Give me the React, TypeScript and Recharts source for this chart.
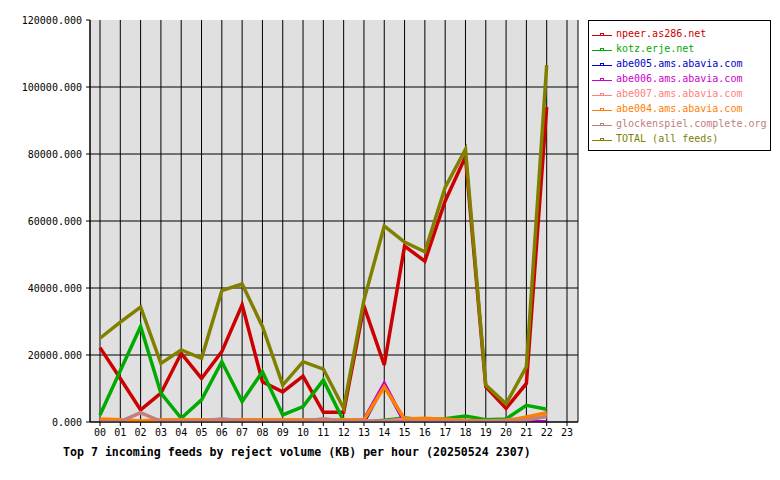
import React from 'react';
import {
  LineChart, Line, XAxis, YAxis, CartesianGrid,
} from 'recharts';

// hours on the x axis
const hours = ['00', '01', '02', '03', '04', '05', '06', '07', '08', '09', '10', '11',
  '12', '13', '14', '15', '16', '17', '18', '19', '20', '21', '22', '23'];

// reject volume (KB) per hour; hour 23 has no data yet
const npeer = [22200, 13000, 3600, 8600, 20500, 13000, 21000, 35000, 12000, 9000, 13700, 2900,
  2900, 34600, 17000, 52500, 48000, 66000, 79200, 10500, 4100, 11500, 94000, null];
const kotz = [2100, 15300, 28500, 8600, 1100, 6600, 18000, 6100, 15000, 2100, 4600, 12500,
  300, 0, 500, 1200, 700, 1000, 1800, 700, 900, 5000, 3800, null];
const abe005 = [0, 0, 0, 0, 0, 0, 0, 0, 0, 0, 0, 0,
  0, 0, 11200, 0, 0, 0, 0, 0, 0, 0, 0, null];
const abe006 = [0, 0, 0, 0, 0, 0, 0, 0, 0, 0, 0, 0,
  300, 700, 11500, 0, 0, 0, 0, 0, 0, 0, 0, null];
const abe007 = [200, 200, 200, 200, 200, 200, 200, 200, 200, 200, 200, 200,
  200, 200, 300, 800, 900, 700, 400, 300, 500, 1300, 2200, null];
const abe004 = [900, 700, 300, 700, 700, 700, 700, 700, 700, 700, 700, 700,
  700, 600, 10500, 900, 1100, 800, 500, 300, 300, 1500, 2800, null];
const glock = [100, 100, 2800, 200, 200, 200, 1000, 200, 200, 200, 200, 1000,
  200, 200, 200, 200, 200, 200, 200, 200, 200, 600, 1600, null];
const total = [25000, 29800, 34300, 17500, 21500, 19000, 39200, 41200, 28500, 11000, 18000, 15800,
  4100, 36400, 58500, 53700, 50800, 70000, 81400, 11000, 5400, 16500, 106500, null];

const yTicks = [0, 20000, 40000, 60000, 80000, 100000, 120000];

const title = 'Top 7 incoming feeds by reject volume (KB) per hour (20250524 2307)';

const SERIES = [
  { key: 'npeer', name: 'npeer.as286.net', color: '#cc0000', values: npeer },
  { key: 'kotz', name: 'kotz.erje.net', color: '#00aa00', values: kotz },
  { key: 'abe005', name: 'abe005.ams.abavia.com', color: '#0000cc', values: abe005 },
  { key: 'abe006', name: 'abe006.ams.abavia.com', color: '#cc00cc', values: abe006 },
  { key: 'abe007', name: 'abe007.ams.abavia.com', color: '#ff8080', values: abe007 },
  { key: 'abe004', name: 'abe004.ams.abavia.com', color: '#ff8000', values: abe004 },
  { key: 'glock', name: 'glockenspiel.complete.org', color: '#c08080', values: glock },
  { key: 'total', name: 'TOTAL (all feeds)', color: '#808000', values: total },
];

const FONT = '"DejaVu Sans Mono", "Liberation Mono", monospace';

const chartData = hours.map((h, i) => {
  const row: any = { hour: h };
  SERIES.forEach(s => { row[s.key] = s.values[i]; });
  return row;
});

function FeedLegend() {
  return (
    <div style={{
      position: 'absolute', left: 588, top: 20,
      width: 183, height: 131, background: '#fff', border: '1px solid #000',
      boxSizing: 'border-box', paddingTop: 5, fontFamily: FONT, fontSize: 10,
    }}>
      {SERIES.map(s => (
        <div key={s.key} style={{ display: 'flex', alignItems: 'center', height: 15 }}>
          {/* little line-with-marker glyph */}
          <div style={{ position: 'relative', width: 20, height: 8, marginLeft: 3, marginRight: 4 }}>
            <div style={{ position: 'absolute', left: 0, top: 5, width: 20, height: 1, background: s.color }} />
            <div style={{
              position: 'absolute', left: 8, top: 3, width: 2, height: 1,
              border: `1px solid ${s.color}`,
            }} />
          </div>
          <span style={{ color: s.color, whiteSpace: 'nowrap' }}>{s.name}</span>
        </div>
      ))}
    </div>
  );
}

export default function App() {
  return (
    <div style={{ position: 'relative', width: 780, height: 480, background: '#fff' }}>
      <style>{'body{margin:0}'}</style>
      <LineChart
        width={780}
        height={480}
        data={chartData}
        margin={{ top: 20, right: 202, bottom: 38, left: 0 }}
      >
        <CartesianGrid
          stroke="#000"
          fill="#e0e0e0"
          fillOpacity={1}
          horizontalValues={yTicks.slice(0, -1)}
        />
        <XAxis
          dataKey="hour"
          interval={0}
          height={20}
          padding={{ left: 10, right: 11 }}
          tick={{ fill: '#000', fontSize: 10, fontFamily: FONT }}
          tickSize={4}
          tickMargin={3}
          axisLine={{ stroke: '#000' }}
          tickLine={{ stroke: '#000' }}
        />
        <YAxis
          width={90}
          domain={[0, 120000]}
          allowDataOverflow
          ticks={yTicks}
          tickFormatter={(v: number) => `${v}.000`}
          tick={{ fill: '#000', fontSize: 10, fontFamily: FONT }}
          tickSize={4}
          tickMargin={4}
          axisLine={{ stroke: '#000' }}
          tickLine={{ stroke: '#000' }}
        />
        <YAxis
          yAxisId="frame"
          orientation="right"
          width={0}
          tick={false}
          tickLine={false}
          axisLine={{ stroke: '#000' }}
        />
        {SERIES.map(s => (
          <Line
            key={s.key}
            type="linear"
            dataKey={s.key}
            name={s.name}
            stroke={s.color}
            strokeWidth={3.5}
            dot={false}
            isAnimationActive={false}
          />
        ))}
      </LineChart>
      <FeedLegend />
      <div style={{
        position: 'absolute', left: 63, top: 445, fontFamily: FONT,
        fontWeight: 'bold', fontSize: 11.6, color: '#000', whiteSpace: 'nowrap',
      }}>
        {title}
      </div>
    </div>
  );
}
